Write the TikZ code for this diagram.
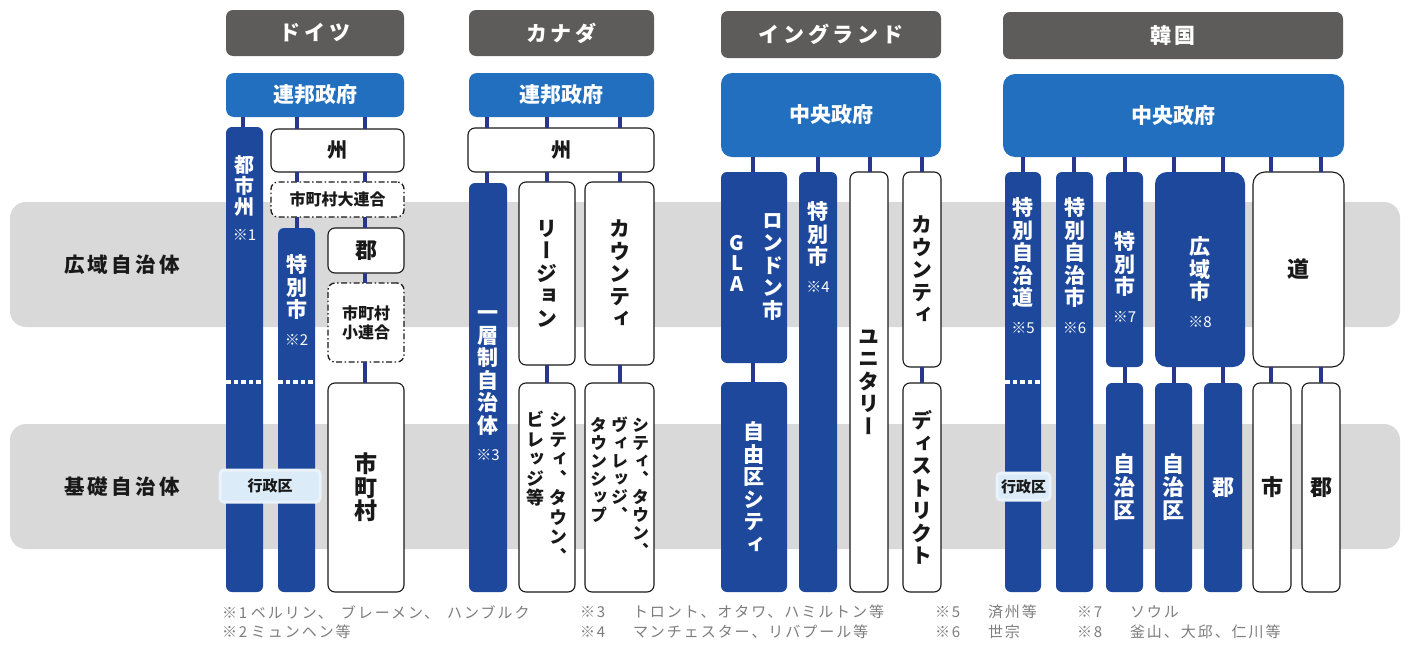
\documentclass[tikz,border=0pt]{standalone}
\usepackage{fontspec}
\setmainfont{Noto Sans CJK JP}
\newfontfamily\vjp{Noto Sans CJK JP}[RawFeature=+vert]
\newfontfamily\lsf{Noto Sans CJK JP}[LetterSpace=16]
\newfontfamily\fnf{Noto Sans CJK JP}[LetterSpace=13]
\newfontfamily\hdf{Noto Sans CJK JP}[LetterSpace=18]
\definecolor{hdrgray}{RGB}{94,92,91}
\definecolor{govblue}{RGB}{33,111,190}
\definecolor{colblue}{RGB}{29,72,156}
\definecolor{lineblue}{RGB}{40,54,140}
\definecolor{bandgray}{RGB}{217,217,217}
\definecolor{kublue}{RGB}{220,235,248}
\definecolor{notegray}{RGB}{125,125,125}
\definecolor{txt}{RGB}{25,25,25}
\makeatletter
\newlength\vtgap \setlength\vtgap{5pt}
\newcommand\vt[2][]{\vtop{\@tfor\vt@c:=#2\do{\hbox to 1em{\hss\vt@c\hss}}%
 \if\relax\detokenize{#1}\relax\else\vskip\vtgap\hbox to 1em{\hss\mdseries\fontsize{15}{16}\selectfont #1\hss}\fi}}
\makeatother
\tikzset{
 base/.style={inner sep=0pt, outer sep=0pt},
 hdr/.style={base, fill=hdrgray, rounded corners=7pt, text=white, font=\hdf\bfseries\fontsize{21}{24}\selectfont},
 gov/.style={base, fill=govblue, rounded corners=8pt, text=white, font=\bfseries\fontsize{21}{24}\selectfont},
 col/.style={base, fill=colblue, rounded corners=6pt, text=white, font=\vjp\bfseries\fontsize{21}{22.5}\selectfont},
 wbox/.style={base, fill=white, draw=txt, line width=1.1pt, rounded corners=7pt, text=txt, font=\vjp\bfseries\fontsize{21}{22.5}\selectfont},
 dbox/.style={wbox, dash pattern=on 6pt off 2.5pt on 1.5pt off 2.5pt, line width=1.3pt, font=\bfseries\fontsize{16}{19}\selectfont},
 conn/.style={draw=lineblue, line width=3.6pt},
 wdots/.style={draw=white, line width=3.8pt, dash pattern=on 4.5pt off 3pt},
 band/.style={fill=bandgray, rounded corners=16pt},
 bandlbl/.style={base, text=txt, font=\lsf\bfseries\fontsize{20.5}{24}\selectfont},
 ku/.style={base, fill=kublue, draw=kublue!60!white, line width=3pt, rounded corners=4pt, text=txt, font=\bfseries\fontsize{15}{18}\selectfont},
 fn/.style={base, anchor=west, text=notegray, font=\fnf\fontsize{15}{18}\selectfont},
 vlbl/.style={base, anchor=north, text=white, font=\vjp\bfseries\fontsize{21}{22.5}\selectfont},
}
\newcommand\bx[7]{\node[#1, minimum width={#5-#3}, minimum height={#6-#4}, anchor=north west] (#2) at (#3,#4) {#7};}
\newcommand\cn[3]{\coordinate (cx) at (#3,0); \draw[conn] (#1.south -| cx) -- (#2.north -| cx);}
\begin{document}
\begin{tikzpicture}[x=1pt,y=-1pt]
\useasboundingbox (0,0) rectangle (1409,645);
\fill[white] (0,0) rectangle (1409,645);
% bands
\fill[band] (10,202) rectangle (1400,327);
\fill[band] (10,424) rectangle (1400,549);
\node[bandlbl] (lbA) at (122,265) {広域自治体};
\node[bandlbl] (lbB) at (122,487) {基礎自治体};
% headers
\bx{hdr}{hG}{226}{10}{404}{56}{ドイツ}
\bx{hdr}{hC}{469}{10}{654}{56}{カナダ}
\bx{hdr}{hE}{721}{11}{941}{58}{イングランド}
\bx{hdr}{hK}{1003}{12}{1343}{59}{韓国}
% Germany
\bx{gov}{gG}{226}{73}{404}{117}{連邦政府}
\bx{col}{gTS}{226}{127}{263}{592}{}
\bx{wbox,font=\bfseries\fontsize{20}{22}\selectfont}{gSt}{271}{129}{404}{172}{州}
\bx{dbox}{gDR}{271}{182}{404}{217}{市町村大連合}
\bx{col}{gSS}{278}{228}{315}{592}{}
\bx{wbox,font=\bfseries\fontsize{22}{24}\selectfont}{gGun}{328}{228}{404}{273}{郡}
\bx{dbox,align=center}{gSR}{328}{283}{404}{362}{市町村\\小連合}
\bx{wbox,font=\vjp\bfseries\fontsize{23}{23.5}\selectfont}{gMun}{328}{383}{404}{592}{\vt{市町村}}
\node[vlbl,font=\vjp\bfseries\fontsize{20}{21}\selectfont] (gTSt) at (244.5,156) {\vt[※1]{都市州}};
\node[vlbl] (gSSt) at (296.5,255) {\vt[※2]{特別市}};
\cn{gG}{gTS}{243}
\cn{gG}{gSt}{297}
\cn{gG}{gSt}{365}
\cn{gSt}{gDR}{297}
\cn{gSt}{gDR}{365}
\cn{gDR}{gSS}{297}
\cn{gDR}{gGun}{365}
\cn{gGun}{gSR}{365}
\cn{gSR}{gMun}{365}
\coordinate (dy) at (0,382);
\draw[wdots] (gTS.west |- dy) -- (gTS.east |- dy);
\draw[wdots] (gSS.west |- dy) -- (gSS.east |- dy);
\node[ku, minimum width=100, minimum height=32] (gKu) at (270,486) {行政区};
% Canada
\bx{gov}{gC}{469}{73}{654}{117}{連邦政府}
\bx{wbox,font=\bfseries\fontsize{20}{22}\selectfont}{cSt}{468}{128}{654}{172}{州}
\bx{col}{cOne}{469}{183}{507}{592}{}
\node[vlbl] (cOnet) at (488,311) {\vt[※3]{一層制自治体}};
\bx{wbox}{cReg}{519}{182}{575}{365}{\vt{リージョン}}
\bx{wbox}{cCty}{585}{182}{654}{365}{\vt{カウンティ}}
\bx{wbox,font=\vjp\bfseries\fontsize{18}{19.5}\selectfont}{cCTV}{519}{383}{575}{592}{\vt{ビレッジ等}\hskip5pt\vt{シティ、タウン、}}
\bx{wbox,font=\vjp\bfseries\fontsize{17}{18}\selectfont}{cCTVT}{585}{383}{654}{592}{\vt{タウンシップ}\hskip4pt\vt{ヴィレッジ、}\hskip4pt\vt{シティ、タウン、}}
\cn{gC}{cSt}{487}
\cn{gC}{cSt}{547}
\cn{gC}{cSt}{620}
\cn{cSt}{cOne}{487}
\cn{cSt}{cReg}{547}
\cn{cSt}{cCty}{620}
\cn{cReg}{cCTV}{547}
\cn{cCty}{cCTVT}{620}
% England
\bx{gov,rounded corners=11pt}{gE}{721}{73}{941}{157}{中央政府}
\bx{col}{eLon}{721}{172}{787}{363}{}
\node[base,text=white,font=\vjp\bfseries\fontsize{21}{22.5}\selectfont] (eLont) at (773,267) {\vt{ロンドン市}};
\node[base,text=white,font=\bfseries\fontsize{20}{20.5}\selectfont] (eGLA) at (737,263) {\vt{GLA}};
\bx{col}{eFree}{721}{382}{787}{592}{\vt{自由区シティ}}
\bx{col}{eSp}{799}{172}{837}{592}{}
\node[vlbl] (eSpt) at (818,202) {\vt[※4]{特別市}};
\bx{wbox}{eUni}{850}{172}{888}{592}{\vt{ユニタリー}}
\bx{wbox}{eCty}{903}{172}{941}{367}{\vt{カウンティ}}
\bx{wbox}{eDis}{903}{383}{941}{592}{\vt{ディストリクト}}
\cn{gE}{eLon}{753}
\cn{gE}{eSp}{818}
\cn{gE}{eUni}{870}
\cn{gE}{eCty}{922}
\cn{eLon}{eFree}{753}
\cn{eCty}{eDis}{922}
% Korea
\bx{gov,rounded corners=12pt}{gK}{1003}{74}{1344}{157}{中央政府}
\bx{col}{kSJD}{1005}{172}{1041}{592}{}
\node[vlbl] (kSJDt) at (1023,198) {\vt[※5]{特別自治道}};
\bx{col}{kSJS}{1056}{172}{1093}{592}{}
\node[vlbl] (kSJSt) at (1074.5,198) {\vt[※6]{特別自治市}};
\bx{col}{kSp}{1106}{172}{1143}{367}{}
\node[vlbl] (kSpt) at (1124.5,232) {\vt[※7]{特別市}};
\bx{col,rounded corners=12pt}{kKo}{1155}{172}{1245}{367}{}
\node[vlbl] (kKot) at (1200,237) {\vt[※8]{広域市}};
\bx{wbox,rounded corners=12pt,font=\bfseries\fontsize{22}{24}\selectfont}{kDo}{1253}{172}{1344}{367}{道}
\bx{col,font=\vjp\bfseries\fontsize{22}{23}\selectfont}{kJ1}{1106}{383}{1143}{592}{\vt{自治区}}
\bx{col,font=\vjp\bfseries\fontsize{22}{23}\selectfont}{kJ2}{1155}{383}{1192}{592}{\vt{自治区}}
\bx{col,font=\bfseries\fontsize{22}{24}\selectfont}{kGun}{1204}{383}{1242}{592}{郡}
\bx{wbox,font=\bfseries\fontsize{22}{24}\selectfont}{kShi}{1253}{383}{1291}{592}{市}
\bx{wbox,font=\bfseries\fontsize{22}{24}\selectfont}{kGun2}{1302}{383}{1340}{592}{郡}
\cn{gK}{kSJD}{1023}
\cn{gK}{kSJS}{1074}
\cn{gK}{kSp}{1125}
\cn{gK}{kKo}{1174}
\cn{gK}{kKo}{1223}
\cn{gK}{kDo}{1271}
\cn{gK}{kDo}{1321}
\cn{kSp}{kJ1}{1125}
\cn{kKo}{kJ2}{1174}
\cn{kKo}{kGun}{1223}
\cn{kDo}{kShi}{1271}
\cn{kDo}{kGun2}{1321}
\draw[wdots] (kSJD.west |- dy) -- (kSJD.east |- dy);
\node[ku, minimum width=53, minimum height=27] (kKu) at (1023.5,486.5) {行政区};
% footnotes
\node[fn] (f1) at (222,612) {\makebox[29pt][l]{※1}ベルリン、\hspace{8pt}ブレーメン、\hspace{8pt}ハンブルク};
\node[fn] (f2) at (222,632) {\makebox[29pt][l]{※2}ミュンヘン等};
\node[fn] (f3) at (580,612) {\makebox[53pt][l]{※3}トロント、オタワ、ハミルトン等};
\node[fn] (f4) at (580,632) {\makebox[53pt][l]{※4}マンチェスター、リバプール等};
\node[fn] (f5) at (935,612) {\makebox[53pt][l]{※5}済州等};
\node[fn] (f6) at (935,632) {\makebox[53pt][l]{※6}世宗};
\node[fn] (f7) at (1077,612) {\makebox[53pt][l]{※7}ソウル};
\node[fn] (f8) at (1077,632) {\makebox[53pt][l]{※8}釜山、大邱、仁川等};
\end{tikzpicture}
\end{document}
